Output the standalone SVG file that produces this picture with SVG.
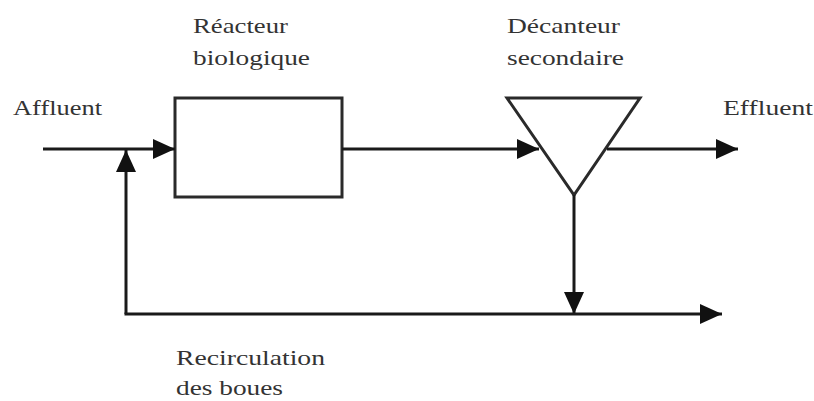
<svg xmlns="http://www.w3.org/2000/svg" width="814" height="401" viewBox="0 0 814 401">
<style>
text{font-family:"Liberation Serif","Times New Roman",serif;font-size:22px;fill:#333}
.ln{stroke:#1a1a1a;stroke-width:3;fill:none}
.shape{stroke:#2a2a2a;stroke-width:3;fill:#fff}
</style>
<defs>
<marker id="ah" markerUnits="userSpaceOnUse" markerWidth="22" markerHeight="20" refX="22" refY="10" orient="auto">
<path d="M0,0 L22,10 L0,20 Z" fill="#111"/>
</marker>
</defs>
<rect width="814" height="401" fill="#fff"/>
<g id="reacteur">
<rect class="shape" x="175" y="98" width="167" height="99"/>
<text x="193" y="33" textLength="95" lengthAdjust="spacingAndGlyphs">Réacteur</text>
<text x="193" y="65" textLength="117" lengthAdjust="spacingAndGlyphs">biologique</text>
</g>
<g id="decanteur">
<path class="shape" d="M507,98 L640,98 L574,195 Z"/>
<text x="507" y="33" textLength="113" lengthAdjust="spacingAndGlyphs">Décanteur</text>
<text x="507" y="65" textLength="117" lengthAdjust="spacingAndGlyphs">secondaire</text>
</g>
<g id="affluent">
<text x="13" y="115" textLength="89" lengthAdjust="spacingAndGlyphs">Affluent</text>
</g>
<g id="effluent">
<text x="723" y="115" textLength="90" lengthAdjust="spacingAndGlyphs">Effluent</text>
</g>
<g id="recirculation">
<text x="176" y="365" textLength="149" lengthAdjust="spacingAndGlyphs">Recirculation</text>
<text x="176" y="395" textLength="107" lengthAdjust="spacingAndGlyphs">des boues</text>
</g>
<g id="connectors">
<line class="ln" x1="43" y1="149" x2="175" y2="149" marker-end="url(#ah)"/>
<line class="ln" x1="342" y1="149" x2="539" y2="149" marker-end="url(#ah)"/>
<line class="ln" x1="607" y1="149" x2="738" y2="149" marker-end="url(#ah)"/>
<line class="ln" x1="574" y1="195" x2="574" y2="314" marker-end="url(#ah)"/>
<polyline class="ln" points="126,314 126,150" marker-end="url(#ah)"/>
<line class="ln" x1="124.5" y1="314" x2="722" y2="314" marker-end="url(#ah)"/>
</g>
</svg>
